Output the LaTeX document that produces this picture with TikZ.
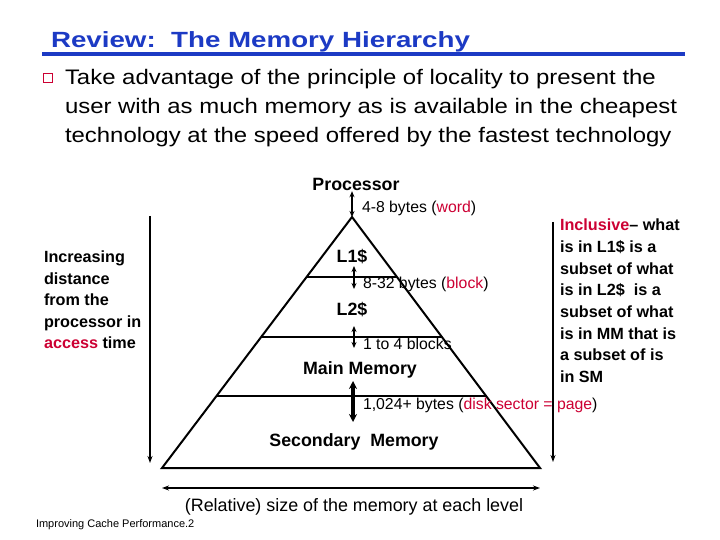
\documentclass[tikz,border=0pt]{standalone}
\usepackage{fontspec}
\setmainfont{Liberation Sans}
\newfontfamily\titlefont{Liberation Sans}[FakeStretch=1.26]
\newfontfamily\bodyfont{Liberation Sans}[FakeStretch=1.14]
\usetikzlibrary{calc,positioning,arrows.meta}

\begin{document}
\begin{tikzpicture}[x=1bp, y=-1bp, line width=2bp,
  dosflechas/.style={{Stealth[length=6bp,width=5bp]}-{Stealth[length=6bp,width=5bp]}, line width=1.8bp}]
  % Definición de colores
  \definecolor{azultitulo}{RGB}{28,58,196} % Azul del título
  \definecolor{rojo}{RGB}{204,0,51} % Rojo de las palabras resaltadas

  \useasboundingbox (0,0) rectangle (720,540);

  % --- Título y texto ---
  \node[anchor=base west, inner sep=0, text=azultitulo, font=\titlefont\bfseries\fontsize{22bp}{26bp}\selectfont] (titulo) at (50,48) {Review:\ \ The Memory Hierarchy};
  \draw[azultitulo, line width=4bp] (42,54) -- (685,54);
  \node[draw=rojo, line width=1.4bp, minimum size=9bp, inner sep=0] (vineta) at (48,78) {};
  \node[anchor=north west, inner sep=0, align=left, font=\bodyfont\fontsize{21bp}{29bp}\selectfont] (texto) at (64,68)
    {Take advantage of the principle of locality to present the\\user with as much memory as is available in the cheapest\\technology at the speed offered by the fastest technology};

  % Coordenadas de la pirámide
  \coordinate (cima) at (352,217);
  \coordinate (izq) at (162,468);
  \coordinate (der) at (540,468);

  % --- Pirámide y niveles ---
  \draw (cima) -- (izq) -- (der) -- cycle;
  \foreach \f in {0.239,0.478,0.713}
    \draw ($(cima)!\f!(izq)$) -- ($(cima)!\f!(der)$);

  % --- Etiquetas de los niveles ---
  \tikzset{nivel/.style={font=\bfseries\fontsize{17.8bp}{20bp}\selectfont, inner sep=0}}
  \node[nivel] (proc) at (356,184) {Processor};
  \node[nivel] (l1) at (352,257) {L1\$};
  \node[nivel] (l2) at (352,310) {L2\$};
  \node[nivel] (mm) at (360,370) {Main Memory};
  \node[nivel] (sm) at (354,442) {Secondary\ \ Memory};

  % --- Flechas entre niveles ---
  \coordinate (b1) at (354,266); \coordinate (b2) at (354,289);
  \coordinate (c1) at (354,326); \coordinate (c2) at (354,348);
  \coordinate (d1) at (353,381); \coordinate (d2) at (353,422);
  \draw[dosflechas] (proc.south -| cima) -- (cima);
  \draw[dosflechas] (b1) -- (b2);
  \draw[dosflechas] (c1) -- (c2);
  \draw[{Stealth[length=8bp,width=8bp]}-{Stealth[length=8bp,width=8bp]}, line width=3.5bp] (d1) -- (d2);

  % --- Tamaños de transferencia ---
  \tikzset{dato/.style={font=\fontsize{15.8bp}{18bp}\selectfont, inner sep=0, anchor=west}}
  \node[dato] (palabra) at (361,208) {4-8 bytes (\textcolor{rojo}{word})};
  \node[dato] (bloque) at (362,284) {8-32 bytes (\textcolor{rojo}{block})};
  \node[dato] (bloques) at (362,344) {1 to 4 blocks};
  \node[dato] (pagina) at (362,405) {1,024+ bytes (\textcolor{rojo}{disk sector = page})};

  % --- Flechas laterales e inferior ---
  \coordinate (lsup) at (150,216); \coordinate (linf) at (150,463);
  \coordinate (rsup) at (553,222); \coordinate (rinf) at (553,462);
  \draw[-{Stealth[length=7bp,width=5bp]}] (lsup) -- (linf);
  \draw[-{Stealth[length=7bp,width=5bp]}] (rsup) -- (rinf);
  \draw[{Stealth[length=7bp,width=5bp]}-{Stealth[length=7bp,width=5bp]}] ($(izq)+(0,20)$) -- ($(der)+(0,20)$);

  % --- Textos laterales ---
  \node[anchor=north west, align=left, inner sep=0, font=\bfseries\fontsize{16.2bp}{21.5bp}\selectfont] (distancia) at (43,250)
    {Increasing\\distance\\from the\\processor in\\\textcolor{rojo}{access} time};
  \node[anchor=north west, align=left, inner sep=0, font=\bfseries\fontsize{16.2bp}{21.7bp}\selectfont] (inclusivo) at (559,218)
    {\textcolor{rojo}{Inclusive}-- what\\is in L1\$ is a\\subset of what\\is in L2\$\ \ is a\\subset of what\\is in MM that is\\a subset of is\\in SM};

  % --- Pie ---
  \node[font=\fontsize{17.9bp}{20bp}\selectfont, inner sep=0] (tamano) at (354,507) {(Relative) size of the memory at each level};
  \node[anchor=west, inner sep=0, font=\fontsize{11bp}{13bp}\selectfont] (pie) at (35,525) {Improving Cache Performance.2};

\end{tikzpicture}
\end{document}
